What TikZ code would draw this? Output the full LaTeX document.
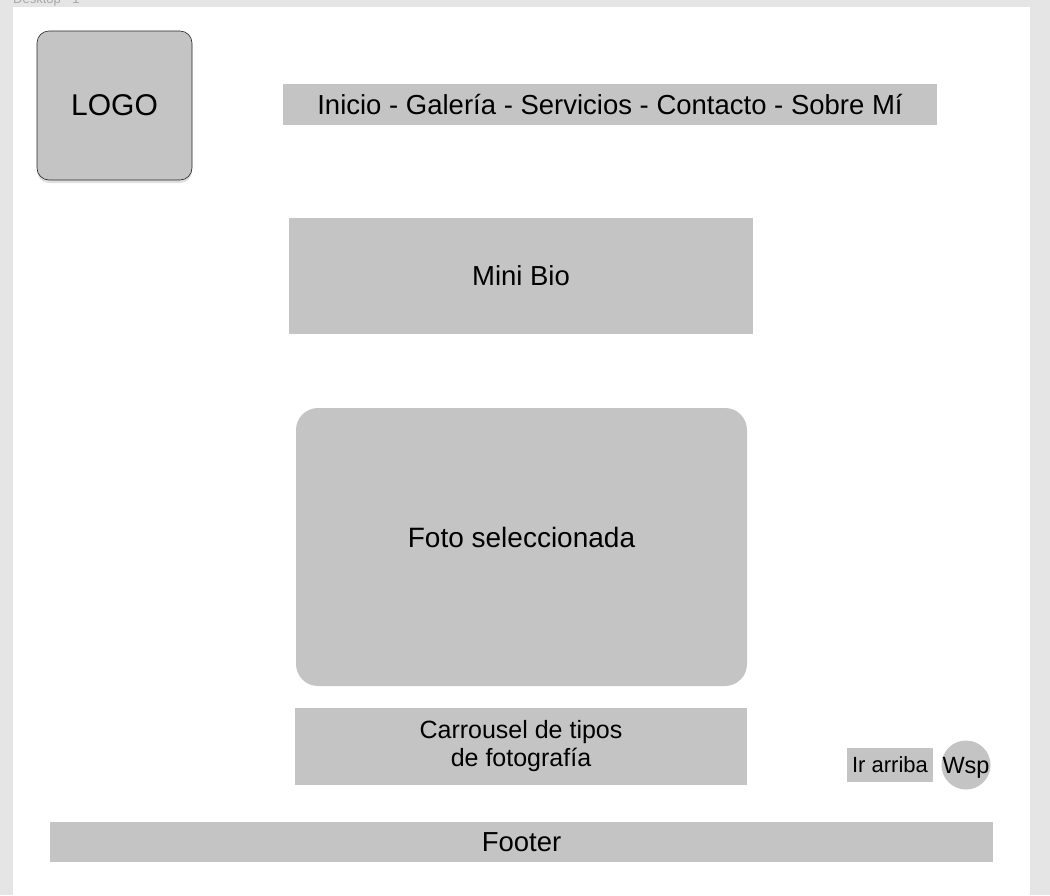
\documentclass[tikz,border=0pt]{standalone}
\usepackage{fontspec}
\setmainfont{Liberation Sans}
\usetikzlibrary{shadows}
\definecolor{boxgray}{HTML}{C4C4C4}
\definecolor{bggray}{HTML}{E5E5E5}
\definecolor{labgray}{HTML}{A8A8A8}
\begin{document}
\begin{tikzpicture}[x=1pt,y=-1pt,
  box/.style={fill=boxgray, draw=none, inner sep=0pt, font=\fontsize{27.5}{32}\selectfont, text=black},
]
\useasboundingbox (0,0) rectangle (1050,895);
\fill[bggray] (0,0) rectangle (1050,895);
\fill[white] (13,7) rectangle (1030,895);
\node[anchor=base west, text=labgray, font=\fontsize{13}{15}\selectfont, inner sep=0pt] (title) at (13,3.5) {Desktop - 1};

\node[box, draw=black!85, line width=0.6pt, rounded corners=12pt, minimum width=155pt, minimum height=149pt,
  drop shadow={shadow xshift=0pt, shadow yshift=-3pt, opacity=0.25}, font=\fontsize{30}{34}\selectfont] (logo) at (114.5,105.5) {LOGO};

\node[box, minimum width=654pt, minimum height=41pt] (nav) at (610,104.5) {Inicio - Galería - Servicios - Contacto - Sobre Mí};

\node[box, minimum width=464pt, minimum height=116pt] (bio) at (521,276) {Mini Bio};

\node[box, rounded corners=22pt, minimum width=451pt, minimum height=278pt,
  label={[yshift=10pt, font=\fontsize{28}{32}\selectfont]center:Foto seleccionada}] (foto) at (521.5,547) {};

\node[box, minimum width=452pt, minimum height=77pt, align=center, font=\fontsize{25}{28}\selectfont] (carr) at (521,746.5) {Carrousel de tipos\\de fotografía};

\node[box, minimum width=86pt, minimum height=34pt, font=\fontsize{22}{26}\selectfont] (up) at (890,765) {Ir arriba};

\node[box, circle, minimum size=49pt,
  label={[inner sep=0pt, yshift=-2.5pt, font=\fontsize{23.5}{27}\selectfont]center:Wsp}] (wsp) at (966,765) {};

\node[box, minimum width=943pt, minimum height=40pt] (footer) at (521.5,842) {Footer};
\end{tikzpicture}
\end{document}
